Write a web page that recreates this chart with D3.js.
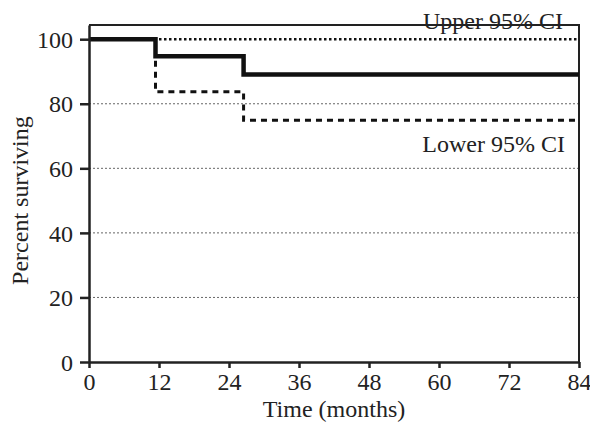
<!DOCTYPE html>
<html lang="en">
<head>
<meta charset="UTF-8">
<title>Percent surviving</title>
<script src="https://d3js.org/d3.v7.min.js"></script>
<style>
    body { margin: 0; background: #fff; }
    text { font-family: "Liberation Serif", "Times New Roman", serif; fill: #222; }
    .tick text { font-size: 24px; }
    .lbl { font-size: 24px; }
</style>
</head>
<body>
<div id="chart"></div>
<script>
    // survival estimate and 95% CI (months, percent)
    const survTimes  = [0, 11.4, 26.5];
    const survValues = [100, 94.7, 89.1];
    const lowerTimes  = [0, 11.4, 26.5];
    const lowerValues = [100, 83.7, 74.9];
    const upperTimes  = [0];
    const upperValues = [100];
    const xTicks = [0, 12, 24, 36, 48, 60, 72, 84];
    const yTicks = [0, 20, 40, 60, 80, 100];
    const gridTicks = [20, 40, 60, 80];
    const endTime = 84;

    const margin = { top: 25, right: 11, bottom: 65, left: 89 },
          width = 590 - margin.left - margin.right,
          height = 427 - margin.top - margin.bottom;

    const svg = d3.select("#chart").append("svg")
        .attr("width", 590).attr("height", 427)
        .append("g")
        .attr("transform", `translate(${margin.left},${margin.top})`);

    const x = d3.scaleLinear().domain([0, 84]).range([0, width]);
    const y = d3.scaleLinear().domain([0, 104.4]).range([height, 0]);

    // grid
    svg.selectAll(".grid").data(gridTicks).enter().append("line")
        .attr("x1", 0).attr("x2", width)
        .attr("y1", d => y(d)).attr("y2", d => y(d))
        .attr("stroke", "#666").attr("stroke-width", 1)
        .attr("stroke-dasharray", "2,2");

    // frame top + right
    svg.append("path")
        .attr("d", `M0,0H${width}V${height}`)
        .attr("fill", "none").attr("stroke", "#222").attr("stroke-width", 2);

    function steps(ts, vs) {
        const pts = ts.map((t, i) => [t, vs[i]]);
        pts.push([endTime, vs[vs.length - 1]]);
        return pts;
    }
    const line = d3.line().x(d => x(d[0])).y(d => y(d[1])).curve(d3.curveStepAfter);

    svg.append("path").datum(steps(upperTimes, upperValues))
        .attr("d", line).attr("fill", "none")
        .attr("stroke", "#111").attr("stroke-width", 2.5)
        .attr("stroke-dasharray", "2.5,2.5");

    svg.append("path").datum(steps(lowerTimes, lowerValues))
        .attr("d", line).attr("fill", "none")
        .attr("stroke", "#111").attr("stroke-width", 3)
        .attr("stroke-dasharray", "6,5");

    svg.append("path").datum(steps(survTimes, survValues))
        .attr("d", line).attr("fill", "none")
        .attr("stroke", "#111").attr("stroke-width", 4.5);

    // axes
    const xAxis = svg.append("g")
        .attr("transform", `translate(0,${height})`)
        .call(d3.axisBottom(x).tickValues(xTicks).tickSize(6).tickSizeOuter(0).tickPadding(5));
    const yAxis = svg.append("g")
        .call(d3.axisLeft(y).tickValues(yTicks).tickSize(9).tickSizeOuter(0).tickPadding(7));
    [xAxis, yAxis].forEach(g => {
        g.select(".domain").attr("stroke", "#222").attr("stroke-width", 2.5);
        g.selectAll(".tick line").attr("stroke", "#222").attr("stroke-width", 2.5);
        g.selectAll(".tick text").attr("fill", "#222");
    });
    yAxis.selectAll(".tick text").attr("dy", "0.34em");

    // labels
    svg.append("text").attr("class", "lbl")
        .attr("x", width / 2).attr("y", height + 55)
        .attr("text-anchor", "middle").text("Time (months)");

    svg.append("text").attr("class", "lbl")
        .attr("transform", `translate(${-61},${y(50)}) rotate(-90)`)
        .attr("text-anchor", "middle").text("Percent surviving");

    svg.append("text").attr("class", "lbl")
        .attr("x", 474).attr("y", 4)
        .attr("text-anchor", "end").text("Upper 95% CI");

    svg.append("text").attr("class", "lbl")
        .attr("x", 476).attr("y", 127)
        .attr("text-anchor", "end").text("Lower 95% CI");
</script>
</body>
</html>
